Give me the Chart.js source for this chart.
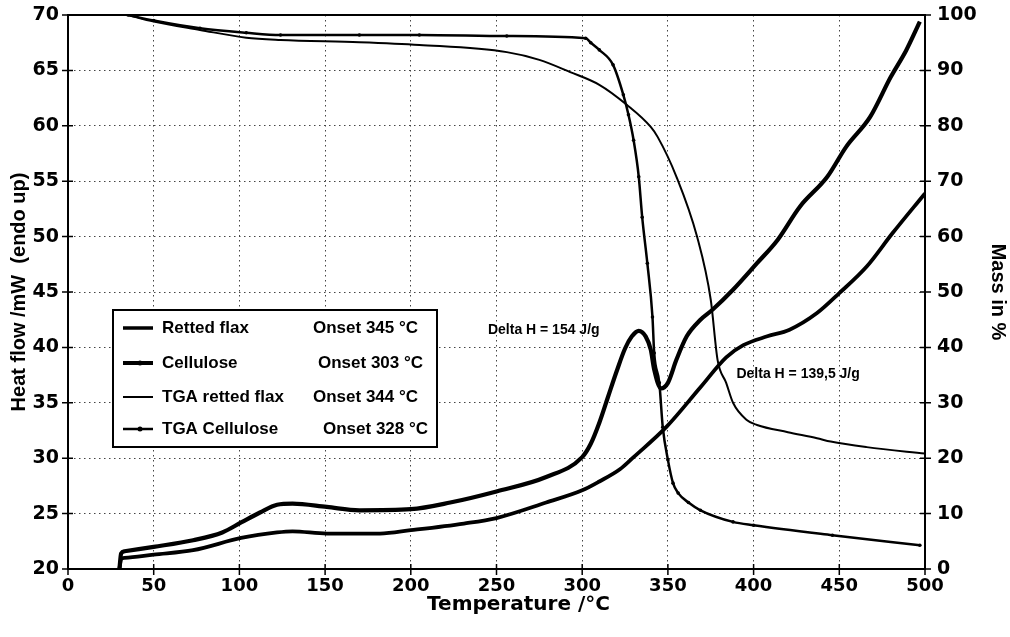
<!DOCTYPE html>
<html>
<head>
<meta charset="utf-8">
<script src="https://cdn.jsdelivr.net/npm/chart.js@4/dist/chart.umd.min.js"></script>
<style>
  html, body { margin: 0; padding: 0; background: #fff; }
  #wrap { width: 1010px; height: 637px; position: relative; }
</style>
</head>
<body>
<div id="wrap"><canvas id="c" width="1010" height="637"></canvas></div>
<script>
// ---- Data ----
const xTicks = [0, 50, 100, 150, 200, 250, 300, 350, 400, 450, 500];
const leftTicks = [20, 25, 30, 35, 40, 45, 50, 55, 60, 65, 70];
const rightTicks = [0, 10, 20, 30, 40, 50, 60, 70, 80, 90, 100];

const xTitle = "Temperature /°C";
const seriesLabels = ["Retted flax", "Cellulose", "TGA retted flax", "TGA Cellulose"];
const onsetLabels = ["Onset 345 °C", "Onset 303 °C", "Onset 344 °C", "Onset 328 °C"];

// DSC heat flow, retted flax (mW)
const flaxT  = [30, 31, 33, 50, 73, 101, 122, 131, 151, 182, 200, 231, 250, 279, 300, 310, 322, 330, 349, 369, 384, 394, 408, 421, 437, 450, 466, 481, 500];
const flaxHF = [20, 20.9, 21.0, 21.3, 21.7, 22.8, 23.3, 23.4, 23.2, 23.2, 23.5, 24.1, 24.6, 26.0, 27.1, 27.9, 29.0, 30.1, 32.8, 36.4, 39.1, 40.2, 41.0, 41.6, 43.1, 44.9, 47.3, 50.3, 53.9];

// DSC heat flow, cellulose (mW)
const celT  = [30, 31, 33, 50, 73, 90, 101, 112, 122, 131, 151, 170, 200, 223, 250, 279, 300, 305, 310, 315, 320, 325, 329, 333, 337, 340, 342, 346, 350, 355, 361, 369, 376, 388, 402, 414, 427, 443, 454, 468, 480, 489, 497];
const celHF = [20, 21.4, 21.6, 22.0, 22.6, 23.3, 24.2, 25.1, 25.8, 25.9, 25.6, 25.3, 25.4, 26.0, 27.0, 28.3, 30.1, 31.3, 33.2, 35.5, 37.8, 39.9, 41.0, 41.5, 41.0, 39.8, 38.0, 36.3, 36.8, 38.9, 41.0, 42.5, 43.4, 45.2, 47.6, 49.7, 52.7, 55.4, 58.1, 60.8, 64.4, 66.8, 69.4];

// TGA mass, retted flax (%)
const tgaFlaxT = [35, 50, 77, 104, 124, 170, 205, 256, 275, 293, 310, 326, 340, 344, 355, 367, 375, 379, 384, 388, 396, 402, 420, 437, 445, 466, 501];
const tgaFlaxM = [100, 98.8, 97.3, 95.9, 95.5, 95.1, 94.6, 93.3, 91.9, 89.7, 87.4, 83.8, 79.8, 78.0, 70.8, 60.0, 48.6, 37.7, 33.6, 30.0, 26.9, 26.0, 24.7, 23.6, 23.0, 22.0, 20.8];

// TGA mass, cellulose (%)
const tgaCelT = [35, 50, 77, 104, 124, 170, 205, 256, 302, 305, 310, 318, 324, 327, 330, 333, 335, 338, 341, 342, 345, 347, 350, 353, 356, 362, 369, 388, 400, 446, 497];
const tgaCelM = [100, 99.0, 97.6, 96.8, 96.4, 96.4, 96.4, 96.2, 95.8, 95.0, 93.7, 91.0, 85.6, 82.0, 77.4, 70.8, 63.5, 55.2, 45.5, 39.0, 33.6, 25.6, 19.7, 15.5, 13.7, 12.0, 10.6, 8.5, 7.9, 6.1, 4.3];

const annotations = [
  { text: "Delta H = 154 J/g", x: 245, y: 41.6 },
  { text: "Delta H = 139,5 J/g", x: 390, y: 37.6 }
];

const FONT = "'Liberation Sans', Arial, Helvetica, sans-serif";
const WIDE = "'DejaVu Sans', Verdana, sans-serif";

function pts(xs, ys) { return xs.map((x, i) => ({ x: x, y: ys[i] })); }

const seriesStyle = [
  { width: 3.5, dot: false },
  { width: 4, dot: true },
  { width: 2, dot: false },
  { width: 2.5, dot: true }
];

const framePlugin = {
  id: 'frame',
  afterDraw(chart) {
    const { ctx, chartArea: a, scales } = chart;
    ctx.save();
    ctx.strokeStyle = '#000';
    ctx.lineWidth = 2;
    ctx.strokeRect(a.left, a.top, a.right - a.left, a.bottom - a.top);
    ctx.lineWidth = 1.5;
    ctx.beginPath();
    scales.x.ticks.forEach(t => {
      const px = scales.x.getPixelForValue(t.value);
      ctx.moveTo(px, a.bottom - 5); ctx.lineTo(px, a.bottom + 6);
    });
    scales.y.ticks.forEach(t => {
      const py = scales.y.getPixelForValue(t.value);
      ctx.moveTo(a.left - 6, py); ctx.lineTo(a.left + 5, py);
    });
    scales.y1.ticks.forEach(t => {
      const py = scales.y1.getPixelForValue(t.value);
      ctx.moveTo(a.right - 5, py); ctx.lineTo(a.right + 6, py);
    });
    ctx.stroke();

    // x-axis title (placed slightly right of centre as in the reference)
    ctx.fillStyle = '#000';
    ctx.font = "bold 20px " + WIDE;
    ctx.textAlign = 'center';
    ctx.textBaseline = 'middle';
    ctx.fillText(xTitle, (a.left + a.right) / 2 + 22, 605);

    // annotations
    ctx.font = "bold 14px " + FONT;
    ctx.textAlign = 'left';
    annotations.forEach(an => {
      ctx.fillText(an.text, scales.x.getPixelForValue(an.x), scales.y.getPixelForValue(an.y));
    });

    // legend box
    const bx = 113, by = 310, bw = 324, bh = 137;
    ctx.fillStyle = '#fff';
    ctx.fillRect(bx, by, bw, bh);
    ctx.lineWidth = 2;
    ctx.strokeStyle = '#000';
    ctx.strokeRect(bx, by, bw, bh);
    const rowsY = [328, 363, 397, 429];
    const onsetX = [313, 318, 313, 323];
    ctx.font = "bold 17px " + FONT;
    ctx.fillStyle = '#000';
    seriesLabels.forEach((lab, i) => {
      const y = rowsY[i];
      ctx.lineWidth = seriesStyle[i].width;
      ctx.beginPath();
      ctx.moveTo(123, y); ctx.lineTo(153, y);
      ctx.stroke();
      if (seriesStyle[i].dot) {
        ctx.beginPath();
        ctx.arc(140, y, 2.5, 0, Math.PI * 2);
        ctx.fill();
      }
      ctx.fillText(lab, 162, y);
      ctx.fillText(onsetLabels[i], onsetX[i], y);
    });
    ctx.restore();
  }
};

function noVertPad(s) { s.paddingTop = 0; s.paddingBottom = 0; }

new Chart(document.getElementById('c'), {
  type: 'line',
  data: {
    datasets: [
      { label: seriesLabels[0], data: pts(flaxT, flaxHF), yAxisID: 'y', borderColor: '#000', borderWidth: 3.8, pointRadius: 0, cubicInterpolationMode: 'monotone' },
      { label: seriesLabels[1], data: pts(celT, celHF), yAxisID: 'y', borderColor: '#000', borderWidth: 4.2, pointRadius: 0, cubicInterpolationMode: 'monotone' },
      { label: seriesLabels[2], data: pts(tgaFlaxT, tgaFlaxM), yAxisID: 'y1', borderColor: '#000', borderWidth: 2, pointRadius: 0, cubicInterpolationMode: 'monotone' },
      { label: seriesLabels[3], data: pts(tgaCelT, tgaCelM), yAxisID: 'y1', borderColor: '#000', backgroundColor: '#000', borderWidth: 2.5, pointRadius: 1.8, pointBorderWidth: 0, cubicInterpolationMode: 'monotone' }
    ]
  },
  options: {
    responsive: false,
    animation: false,
    layout: { padding: { top: 15, left: 0, right: 0, bottom: 0 } },
    plugins: { legend: { display: false }, tooltip: { enabled: false } },
    scales: {
      x: {
        type: 'linear', min: 0, max: 500,
        afterBuildTicks: s => { s.ticks = xTicks.map(v => ({ value: v })); },
        afterFit: s => { s.height = 68; },
        ticks: { color: '#000', font: { family: WIDE, size: 18, weight: 'bold' }, padding: 7 },
        grid: { color: '#444', lineWidth: 1, drawTicks: false },
        border: { display: true, color: '#000', width: 2, dash: [1.5, 3.5] },
        title: { display: false }
      },
      y: {
        type: 'linear', position: 'left', min: 20, max: 70,
        afterBuildTicks: s => { s.ticks = leftTicks.map(v => ({ value: v })); },
        afterFit: s => { s.width = 68; noVertPad(s); },
        ticks: { color: '#000', font: { family: WIDE, size: 19, weight: 'bold' }, padding: 9 },
        grid: { color: '#444', lineWidth: 1, drawTicks: false },
        border: { display: true, color: '#000', width: 2, dash: [1.5, 3.5] },
        title: { display: true, text: 'Heat flow /mW  (endo up)', color: '#000', font: { family: FONT, size: 20, weight: 'bold' }, padding: { top: 7, bottom: 7 } }
      },
      y1: {
        type: 'linear', position: 'right', min: 0, max: 100,
        afterBuildTicks: s => { s.ticks = rightTicks.map(v => ({ value: v })); },
        afterFit: s => { s.width = 85; noVertPad(s); },
        ticks: { color: '#000', font: { family: WIDE, size: 19, weight: 'bold' }, padding: 12 },
        grid: { drawOnChartArea: false, drawTicks: false },
        border: { display: true, color: '#000', width: 2 },
        title: { display: true, text: 'Mass in %', color: '#000', font: { family: FONT, size: 20, weight: 'bold' }, padding: { top: 0, bottom: 0 } }
      }
    }
  },
  plugins: [framePlugin]
});
</script>
</body>
</html>
